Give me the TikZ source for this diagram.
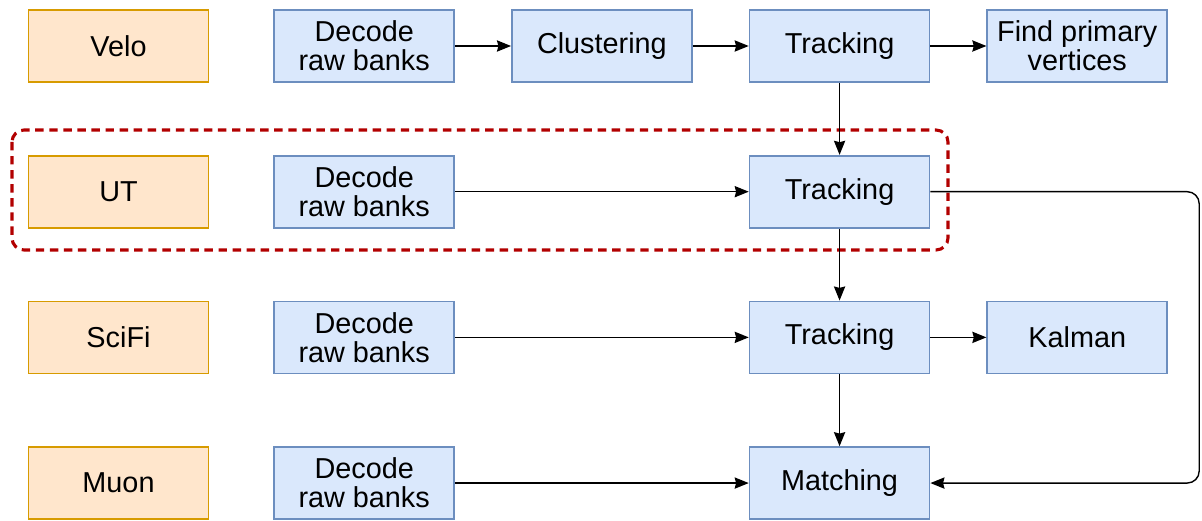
\documentclass[tikz,border=0pt]{standalone}
\usepackage{fontspec}
\setmainfont{Liberation Sans}
\usetikzlibrary{arrows.meta,positioning}

\definecolor{detfill}{HTML}{FFE6CC}
\definecolor{detline}{HTML}{D79B00}
\definecolor{algfill}{HTML}{DAE8FC}
\definecolor{algline}{HTML}{6C8EBF}
\definecolor{utred}{HTML}{B20000}

\begin{document}
\begin{tikzpicture}[
      det/.style={draw=detline, fill=detfill, line width=1.2pt, minimum width=4.5cm, minimum height=1.8cm, inner sep=2pt, align=center, font=\fontsize{20.5}{20.8}\selectfont},
      alg/.style={det, draw=algline, fill=algfill},
      flow/.style={-{Stealth[length=10pt, width=8pt, inset=1pt]}, line width=1pt},
    ]
      \useasboundingbox (0,0) rectangle (30.05,-13.025);
      % detectors
      \node[det] (velo) at (2.9625,-1.15) {Velo};
      \node[det, below=1.8cm of velo] (ut) {UT};
      \node[det, below=1.8cm of ut] (scifi) {SciFi};
      \node[det, below=1.8cm of scifi] (muon) {Muon};
      % velo
      \node[alg, right=1.6cm of velo] (veloDecode) {Decode\\raw banks};
      \node[alg, right=1.4cm of veloDecode] (veloClust) {Clustering};
      \node[alg, right=1.4cm of veloClust] (veloTrack) {Tracking};
      \node[alg, right=1.4cm of veloTrack] (pv) {Find primary\\vertices};
      % ut
      \node[alg, right=1.6cm of ut] (utDecode) {Decode\\raw banks};
      \node[alg, below=1.8cm of veloTrack] (utTrack) {Tracking};
      % scifi
      \node[alg, right=1.6cm of scifi] (scifiDecode) {Decode\\raw banks};
      \node[alg, below=1.8cm of utTrack] (scifiTrack) {Tracking};
      \node[alg, right=1.4cm of scifiTrack] (kalman) {Kalman};
      % muon
      \node[alg, right=1.6cm of muon] (muonDecode) {Decode\\raw banks};
      \node[alg, below=1.8cm of scifiTrack] (match) {Matching};

      \draw[utred, line width=2.2pt, dash pattern=on 6pt off 4pt, rounded corners=0.3cm]
        (0.3,-3.25) rectangle (23.7,-6.25);

      \draw[flow] (veloDecode) -- (veloClust);
      \draw[flow] (veloClust) -- (veloTrack);
      \draw[flow] (veloTrack) -- (pv);
      \draw[flow] (veloTrack) -- (utTrack);
      \draw[flow] (utDecode) -- (utTrack);
      \draw[flow] (utTrack) -- (scifiTrack);
      \draw[flow] (scifiDecode) -- (scifiTrack);
      \draw[flow] (scifiTrack) -- (kalman);
      \draw[flow] (scifiTrack) -- (match);
      \draw[flow] (muonDecode) -- (match);
      \draw[flow, rounded corners=0.3cm] (utTrack.east) -- ++(6.72,0) |- (match.east);
    \end{tikzpicture}
\end{document}
